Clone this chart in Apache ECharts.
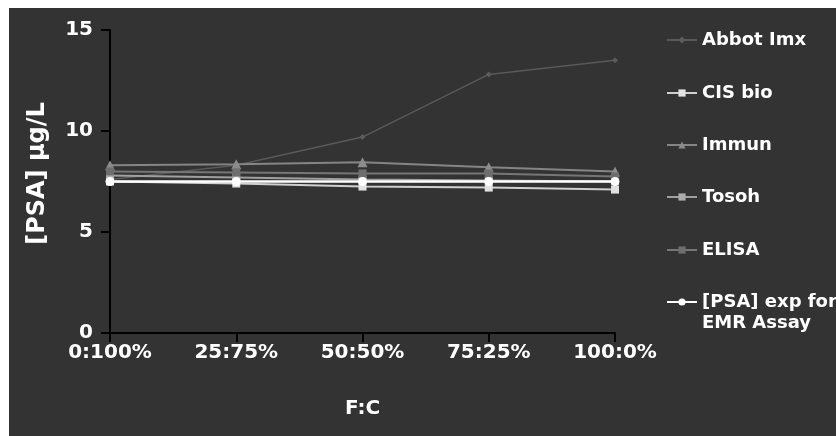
<!DOCTYPE html>
<html>
<head>
<meta charset="utf-8">
<script src="https://cdn.jsdelivr.net/npm/echarts@6/dist/echarts.min.js"></script>
<style>
  html, body { margin: 0; padding: 0; background: #ffffff; }
  #chart { position: absolute; left: 9px; top: 8px; width: 827px; height: 428px; background: #333333; }
</style>
</head>
<body>
<div id="chart"></div>
<script>
// F:C mixing ratios along the x axis
const categories = ['0:100%', '25:75%', '50:50%', '75:25%', '100:0%'];

// Measured PSA concentration (µg/L) per assay
const abbotImx = [7.6, 8.3, 9.7, 12.8, 13.5];
const cisBio   = [7.5, 7.4, 7.25, 7.2, 7.1];
const immun    = [8.3, 8.35, 8.45, 8.2, 8.0];
const tosoh    = [7.8, 7.7, 7.6, 7.55, 7.5];
const elisa    = [8.0, 7.95, 7.9, 7.9, 7.75];
const expected = [7.5, 7.5, 7.5, 7.5, 7.5];

const yTicks = [0, 5, 10, 15];

const FONT = 'DejaVu Sans';
const EXP_NAME = '[PSA] exp for EMR Assay';

const seriesDefs = [
  { name: 'Abbot Imx', data: abbotImx, color: '#5c5c5c', line: '#595959', symbol: 'diamond', size: 6, width: 1.5 },
  { name: 'CIS bio', data: cisBio, color: '#e2e2e2', line: '#d0d0d0', symbol: 'rect', size: 8, width: 2 },
  { name: 'Immun', data: immun, color: '#8c8c8c', line: '#858585', symbol: 'triangle', size: 10, width: 2 },
  { name: 'Tosoh', data: tosoh, color: '#ababab', line: '#a0a0a0', symbol: 'rect', size: 8, width: 2 },
  { name: 'ELISA', data: elisa, color: '#6e6e6e', line: '#767676', symbol: 'rect', size: 8, width: 2 },
  { name: EXP_NAME, data: expected, color: '#ffffff', line: '#ffffff', symbol: 'circle', size: 9, width: 2.5 }
];

// One legend block per assay so each entry sits on its own row
const legendTops = [21.5, 74.5, 126.5, 178.5, 231.5, 262.5];
const legends = seriesDefs.map((s, i) => ({
  data: [s.name],
  left: 657,
  top: legendTops[i],
  padding: 0,
  orient: 'vertical',
  itemWidth: 30,
  itemHeight: 9,
  inactiveColor: '#777',
  textStyle: {
    color: '#ffffff',
    fontFamily: FONT,
    fontWeight: 'bold',
    fontSize: 18,
    lineHeight: 21,
    rich: {
      sp: { fontSize: 18, lineHeight: 21, height: 21 }
    }
  },
  formatter: function (n) {
    // an empty spacer row keeps the marker level with the first text line
    return n === EXP_NAME ? '{sp| }\n[PSA] exp for\nEMR Assay' : n;
  }
}));

const chart = echarts.init(document.getElementById('chart'), null, { renderer: 'canvas' });

chart.setOption({
  backgroundColor: '#333333',
  animation: false,
  legend: legends,
  grid: { left: 101, right: 221, top: 22, bottom: 103 },
  xAxis: {
    type: 'category',
    data: categories,
    boundaryGap: false,
    name: 'F:C',
    nameLocation: 'middle',
    nameGap: 66,
    nameTextStyle: { color: '#ffffff', fontFamily: FONT, fontWeight: 'bold', fontSize: 20 },
    axisLine: { lineStyle: { color: '#000000', width: 2 } },
    axisTick: { show: true, length: 9, inside: false, alignWithLabel: true, lineStyle: { color: '#000000', width: 2 } },
    axisLabel: { color: '#ffffff', fontFamily: FONT, fontWeight: 'bold', fontSize: 20, margin: 10 },
    splitLine: { show: false }
  },
  yAxis: {
    type: 'value',
    min: yTicks[0],
    max: yTicks[yTicks.length - 1],
    interval: 5,
    name: '[PSA] µg/L',
    nameLocation: 'middle',
    nameGap: 60,
    nameRotate: 90,
    nameTextStyle: { color: '#ffffff', fontFamily: FONT, fontWeight: 'bold', fontSize: 24, padding: [0, 0, 0, 16] },
    axisLine: { show: true, lineStyle: { color: '#000000', width: 2 } },
    axisTick: { show: true, length: 9, lineStyle: { color: '#000000', width: 2 } },
    axisLabel: { color: '#ffffff', fontFamily: FONT, fontWeight: 'bold', fontSize: 20, margin: 17 },
    splitLine: { show: false }
  },
  series: seriesDefs.map(s => ({
    name: s.name,
    type: 'line',
    data: s.data,
    symbol: s.symbol,
    symbolSize: s.size,
    showSymbol: true,
    itemStyle: { color: s.color, borderWidth: 0 },
    lineStyle: { color: s.line, width: s.width },
    emphasis: { disabled: true }
  }))
});
</script>
</body>
</html>
